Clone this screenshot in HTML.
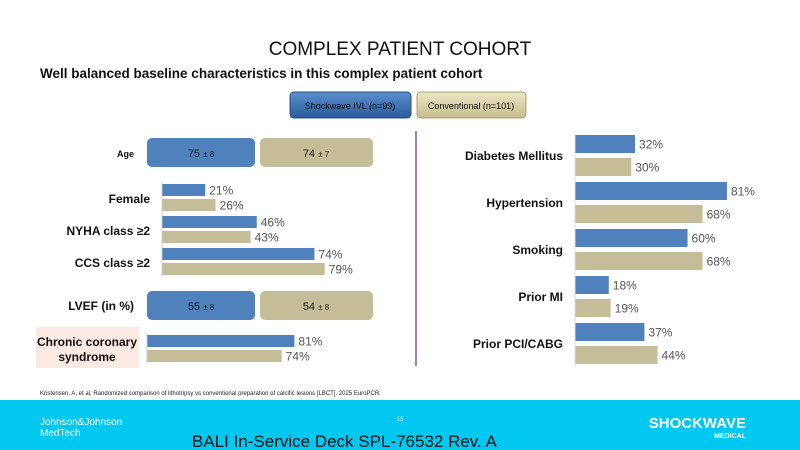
<!DOCTYPE html>
<html><head><meta charset="utf-8">
<style>
body{margin:0;width:800px;height:450px;overflow:hidden;background:#fff;font-family:"Liberation Sans",sans-serif;}
svg{display:block}
</style></head>
<body>
<svg id="c" width="800" height="450" xmlns="http://www.w3.org/2000/svg">
<defs>
<linearGradient id="gb" x1="0" y1="0" x2="0" y2="1"><stop offset="0" stop-color="#5b8fd0"/><stop offset="1" stop-color="#2c5a9a"/></linearGradient>
<linearGradient id="gt" x1="0" y1="0" x2="0" y2="1"><stop offset="0" stop-color="#ece6c2"/><stop offset="1" stop-color="#c6bd90"/></linearGradient>
</defs>
<text x="400" y="55" text-anchor="middle" font-size="19" fill="#111">COMPLEX PATIENT COHORT</text>
<text x="40" y="78" font-size="13.5" font-weight="bold" fill="#111">Well balanced baseline characteristics in this complex patient cohort</text>
<g><rect x="290" y="92" width="121" height="26" rx="4" fill="url(#gb)" stroke="#2a4f80"/><text x="350" y="109" text-anchor="middle" font-size="9" fill="#111">Shockwave IVL (n=99)</text></g>
<g><rect x="417" y="92" width="109" height="26" rx="4" fill="url(#gt)" stroke="#a89f70"/><text x="471" y="109" text-anchor="middle" font-size="9" fill="#111">Conventional (n=101)</text></g>
<line x1="416" y1="131" x2="416" y2="366" stroke="#7a5a9a" stroke-width="1.5"/>
<rect x="36" y="327" width="103" height="41" fill="#fbe9e4"/>
<g id="g"></g>
<text x="40" y="395" font-size="6" fill="#222">Kristensen, A. et al, Randomized comparison of lithotripsy vs conventional preparation of calcific lesions [LBCT]. 2025 EuroPCR.</text>
<rect x="0" y="400" width="800" height="50" fill="#00c8f0"/>
<text x="40" y="425" font-size="10" fill="#fff">Johnson&amp;Johnson</text>
<text x="40" y="436" font-size="10" fill="#fff">MedTech</text>
<text x="400" y="421" font-size="6" fill="#fff" text-anchor="middle">13</text>
<text x="746" y="428" font-size="15" font-weight="bold" fill="#fff" text-anchor="end">SHOCKWAVE</text>
<text x="746" y="438" font-size="7" font-weight="bold" fill="#fff" text-anchor="end">MEDICAL</text>
<text x="192" y="447" font-size="17" fill="#111">BALI In-Service Deck SPL-76532 Rev. A</text>
</svg>
<script>
const leftCats=["Female","NYHA class ≥2","CCS class ≥2"];
const leftIvl=[21,46,74];
const leftConv=[26,43,79];
const ccsIvl=[81];
const ccsConv=[74];
const rightCats=["Diabetes Mellitus","Hypertension","Smoking","Prior MI","Prior PCI/CABG"];
const rightIvl=[32,81,60,18,37];
const rightConv=[30,68,68,19,44];
const boxCats=["Age","LVEF (in %)"];
const boxIvl=["75","55"];
const boxIvlSd=["8","8"];
const boxConv=["74","54"];
const boxConvSd=["7","8"];
const NS="http://www.w3.org/2000/svg";
const g=document.getElementById('g');
function mk(t,a,txt){const e=document.createElementNS(NS,t);for(const k in a)e.setAttribute(k,a[k]);if(txt!=null)e.textContent=txt;g.appendChild(e);return e;}
const BLUE="#4f81bd",TAN="#c4bd97";
function bar(x0,scale,v,y,h,color,name){
  const r=mk('rect',{x:x0,y:y,width:v*scale,height:h,fill:color});
  
  
  const t=mk('text',{x:x0+v*scale+4,y:y+h/2+4.5,'font-size':12,fill:'#555'},v+'%');
  
  
}
function cat(x,y,txt,fs,name,anchor){const t=mk('text',{x:x,y:y,'text-anchor':anchor||'end','font-size':fs,'font-weight':'bold',fill:'#111'},txt);
  
  }
const lx=162,ls=2.06;
leftCats.forEach((c,i)=>{const y=184+i*32;
  bar(lx,ls,leftIvl[i],y,12,BLUE,'bar-ivl-'+i);
  bar(lx,ls,leftConv[i],y+15,12,TAN,'bar-conv-'+i);
  cat(150,y+19,c,12,'category-left-'+i);});
mk('line',{x1:lx,y1:182,x2:lx,y2:277,stroke:'#ccc'});
const cx=147,cs=1.82;
bar(cx,cs,ccsIvl[0],335,12,BLUE,'bar-ccs-ivl');
bar(cx,cs,ccsConv[0],350,12,TAN,'bar-ccs-conv');
mk('line',{x1:cx,y1:333,x2:cx,y2:364,stroke:'#ccc'});
cat(87,346,"Chronic coronary",12,'category-ccs-1','middle');
cat(87,361,"syndrome",12,'category-ccs-2','middle');
boxCats.forEach((c,i)=>{const y=i?291:138;
  const b=mk('rect',{x:147,y:y,width:108,height:29,rx:5,fill:BLUE});
  const b2=mk('rect',{x:260,y:y,width:113,height:29,rx:5,fill:TAN});
  const t1=mk('text',{x:201,y:y+19,'text-anchor':'middle','font-size':11,fill:'#222'});t1.innerHTML=boxIvl[i]+' <tspan font-size="8">± '+boxIvlSd[i]+'</tspan>';
  
  const t2=mk('text',{x:316,y:y+19,'text-anchor':'middle','font-size':11,fill:'#222'});t2.innerHTML=boxConv[i]+' <tspan font-size="8">± '+boxConvSd[i]+'</tspan>';
  
  cat(134,y+19,c,i?12:9,'category-box-'+i);});
const rx=575,rs=1.876;
rightCats.forEach((c,i)=>{const y=135+i*47;
  bar(rx,rs,rightIvl[i],y,18,BLUE,'bar-right-ivl-'+i);
  bar(rx,rs,rightConv[i],y+23,18,TAN,'bar-right-conv-'+i);
  cat(563,y+25,c,12,'category-right-'+i);});
mk('line',{x1:rx,y1:133,x2:rx,y2:367,stroke:'#ddd'});
</script>
</body></html>
